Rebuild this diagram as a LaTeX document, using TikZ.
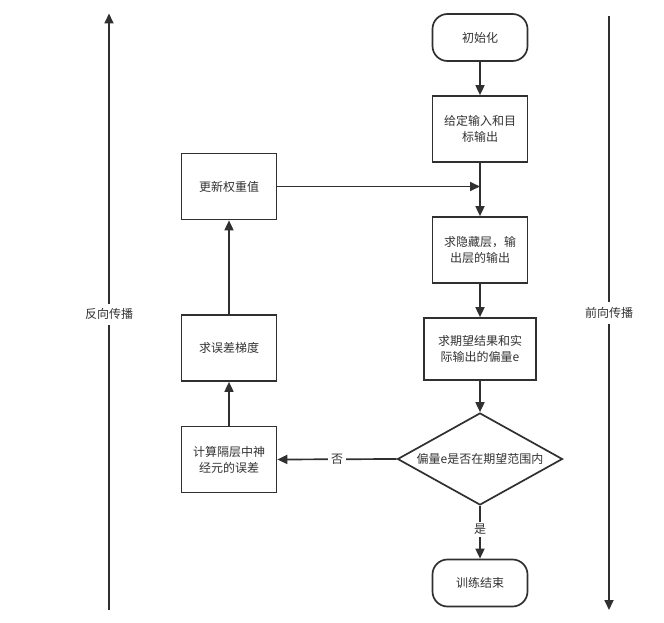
\documentclass[tikz,border=0pt]{standalone}
\usepackage{fontspec}
\setmainfont{Noto Sans CJK SC}
\usetikzlibrary{arrows.meta,shapes.geometric}
\definecolor{linec}{HTML}{303030}
\definecolor{txtc}{HTML}{333333}
\tikzset{
  box/.style={draw=linec, line width=1.7pt, fill=white, minimum width=95pt, minimum height=66pt,
    align=center, text=txtc, font=\fontsize{12}{16}\selectfont, inner sep=2pt},
  term/.style={box, rounded corners=15pt, minimum height=47pt},
  dec/.style={draw=linec, line width=1.7pt, diamond, aspect=1.79, inner sep=0pt,
    minimum width=165pt, minimum height=92pt, text=txtc, font=\fontsize{12}{16}\selectfont},
  arr/.style={draw=linec, line width=1.7pt, -{Triangle[length=10pt,width=9pt]}},
  lbl/.style={fill=white, text=txtc, font=\fontsize{12}{16}\selectfont, inner sep=5pt}
}
\begin{document}
\begin{tikzpicture}[x=1pt,y=-1pt]
\useasboundingbox[fill=white] (0,0) rectangle (664,623);
% main column
\node[term] (init) at (480,37.5) {初始化};
\node[box] (give) at (480,129) {给定输入和目\\标输出};
\node[box] (hid) at (480,250) {求隐藏层，输\\出层的输出};
\node[box, minimum width=112pt, minimum height=62pt] (exp) at (480,349) {求期望结果和实\\际输出的偏量e};
\node[dec] (chk) at (480,459) {偏量e是否在期望范围内};
\node[term] (fin) at (480,583) {训练结束};
% left column
\node[box] (upd) at (229,186.5) {更新权重值};
\node[box] (grad) at (229,348) {求误差梯度};
\node[box] (calc) at (229,459.5) {计算隔层中神\\经元的误差};
\coordinate (join) at (upd.east -| give.south);
% side arrows
\coordinate (lb) at (109,610);
\coordinate (lt) at (109,13.5);
\coordinate (rt) at (609,16);
\coordinate (rb) at (609,610);
\draw[arr] (lb) -- node[lbl, pos=0.496] {反向传播} (lt);
\draw[arr] (rt) -- node[lbl, pos=0.5] {前向传播} (rb);
% connectors
\draw[arr] (init) -- (give);
\draw[arr] (give) -- (hid);
\draw[arr] (upd.east) -- (join);
\draw[arr] (hid) -- (exp);
\draw[arr] (exp) -- (chk.north);
\draw[arr] (chk.south) -- node[lbl, inner sep=2pt, pos=0.45] {是} (fin);
\draw[arr] (chk.west) -- node[lbl, inner sep=3pt] {否} (calc.east);
\draw[arr] (calc) -- (grad);
\draw[arr] (grad) -- (upd);
\end{tikzpicture}
\end{document}
